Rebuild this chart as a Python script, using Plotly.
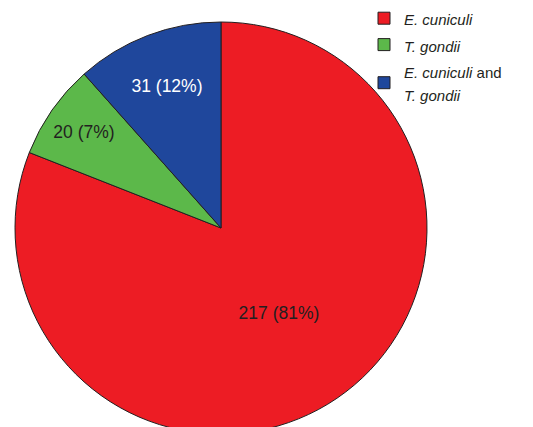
import plotly.graph_objects as go

labels = ["E. cuniculi", "T. gondii", "E. cuniculi and T. gondii"]
legend_names = [
    "<i>E. cuniculi</i>",
    "<i>T. gondii</i>",
    "<i>E. cuniculi</i> and<br><i>T. gondii</i>",
]
values = [217, 20, 31]
pcts = ["81%", "7%", "12%"]
colors = ["#ed1c24", "#5cb84a", "#1f479c"]
text_colors = ["#231f20", "#231f20", "#ffffff"]

styled = ['<span style="font-size:15px">' + n.replace("<br>", '</span><br><span style="font-size:15px">') + "</span>"
          for n in legend_names]

fig = go.Figure(go.Pie(
    labels=styled,
    values=values,
    customdata=pcts,
    sort=False,
    direction="clockwise",
    rotation=0,
    marker=dict(colors=colors, line=dict(color="#231f20", width=1)),
    texttemplate="%{value} (%{customdata})",
    textposition="inside",
    insidetextorientation="horizontal",
    insidetextfont=dict(color=text_colors, size=17.5, family="Liberation Sans, Arial"),
    domain=dict(x=[15/533, 427/533], y=[0, 1]),
    hoverinfo="skip",
))

fig.update_layout(
    width=533, height=456, autosize=False,
    margin=dict(l=0, r=0, t=0, b=0),
    paper_bgcolor="white",
    showlegend=True,
    legend=dict(x=364/533, y=1, xanchor="left", yanchor="top",
                font=dict(size=18, family="Liberation Sans, Arial", color="#231f20"),
                bgcolor="rgba(0,0,0,0)", itemwidth=30),
)

fig.write_html("out.html", config={"displayModeBar": False}, post_script=(
    "document.body.style.margin='0';"
    "document.body.style.overflow='hidden';"
    "document.documentElement.style.overflow='hidden';"))
